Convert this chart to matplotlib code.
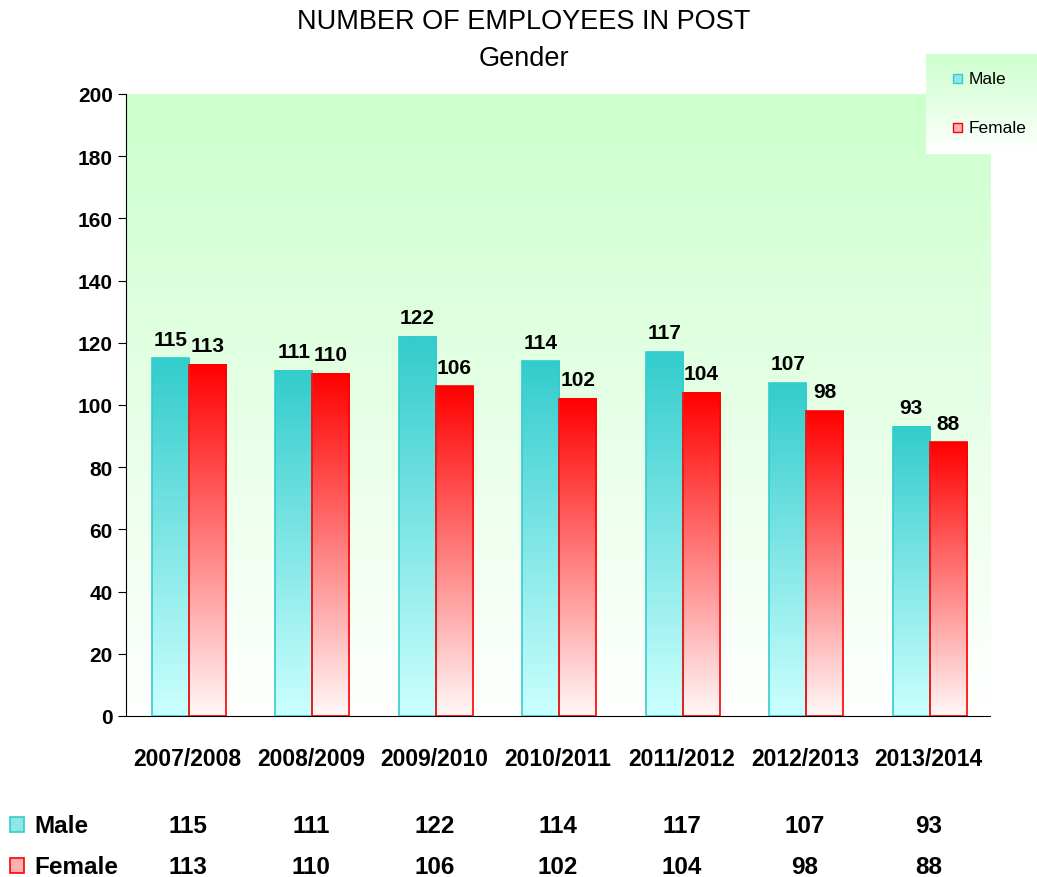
import numpy as np
import matplotlib
matplotlib.use('Agg')
import matplotlib.pyplot as plt
from matplotlib.colors import LinearSegmentedColormap
from matplotlib.patches import Rectangle
from matplotlib.transforms import blended_transform_factory

plt.rcParams['font.family'] = ['Liberation Sans', 'DejaVu Sans']

years = ['2007/2008', '2008/2009', '2009/2010', '2010/2011',
         '2011/2012', '2012/2013', '2013/2014']
male = [115, 111, 122, 114, 117, 107, 93]
female = [113, 110, 106, 102, 104, 98, 88]
series_names = ['Male', 'Female']

male_cmap = LinearSegmentedColormap.from_list('m', ['#ccffff', '#33cccc'])
female_cmap = LinearSegmentedColormap.from_list('f', ['#fff8f8', '#ff0000'])
bg_cmap = LinearSegmentedColormap.from_list('bg', ['#ffffff', '#ccffcc'])
grad = np.linspace(0, 1, 256).reshape(-1, 1)

fig = plt.figure(figsize=(10.37, 8.78), dpi=100)
ax = fig.add_axes([0.1215, 0.1834, 0.8332, 0.7084])

x = np.arange(len(years))
w = 0.30
ax.set_xlim(-0.5, len(years) - 0.5)
ax.set_ylim(0, 200)

# background gradient
ax.imshow(grad, cmap=bg_cmap, origin='lower', aspect='auto',
          extent=(0, 1, 0, 1), transform=ax.transAxes, zorder=0)


def gradient_bar(xc, h, cmap, edge):
    x0, x1 = xc - w / 2, xc + w / 2
    ax.imshow(grad, cmap=cmap, origin='lower', aspect='auto',
              extent=(x0, x1, 0, h), zorder=2)
    ax.add_patch(Rectangle((x0, 0), w, h, fill=False, edgecolor=edge,
                           lw=1.2, zorder=3))


for i in range(len(years)):
    gradient_bar(x[i] - w / 2 + 0.01, male[i], male_cmap, '#33cccc')
    gradient_bar(x[i] + w / 2 + 0.01, female[i], female_cmap, '#ff0000')
    ax.annotate(str(male[i]), (x[i] - w / 2 + 0.01, male[i]), xytext=(0, 7),
                textcoords='offset points', ha='center', va='bottom',
                fontsize=15, fontweight='bold', zorder=5)
    ax.annotate(str(female[i]), (x[i] + w / 2 + 0.01, female[i]),
                xytext=(0, 7), textcoords='offset points', ha='center',
                va='bottom', fontsize=15, fontweight='bold', zorder=5)

ax.set_xlim(-0.5, len(years) - 0.5)
ax.set_ylim(0, 200)
ax.set_yticks(np.arange(0, 201, 20))
ax.tick_params(axis='y', labelsize=15, length=6, direction='out')
for lbl in ax.get_yticklabels():
    lbl.set_fontweight('bold')
ax.set_xticks(x)
ax.set_xticklabels(years, fontsize=16.5, fontweight='bold')
ax.tick_params(axis='x', length=0, pad=22)
ax.spines['top'].set_visible(False)
ax.spines['right'].set_visible(False)

fig.text(0.505, 0.975, 'NUMBER OF EMPLOYEES IN POST', ha='center',
         va='center', fontsize=19.5)
fig.text(0.505, 0.933, 'Gender', ha='center', va='center', fontsize=19.5)

# legend box in the top right
lax = fig.add_axes([0.893, 0.8235, 0.107, 0.114])
lax.imshow(grad, cmap=bg_cmap, origin='lower', aspect='auto',
           extent=(0, 1, 0, 1), zorder=0)
lax.set_xlim(0, 1)
lax.set_ylim(0, 1)
lax.axis('off')
lax.add_patch(Rectangle((0.24, 0.71), 0.08, 0.09, facecolor='#8ee6e6',
                        edgecolor='#33cccc', lw=1))
lax.add_patch(Rectangle((0.24, 0.22), 0.08, 0.09, facecolor='#ffb0b0',
                        edgecolor='#ff0000', lw=1))
lax.text(0.38, 0.755, series_names[0], va='center', fontsize=12.5)
lax.text(0.38, 0.265, series_names[1], va='center', fontsize=12.5)

# data table under the axis
trans = blended_transform_factory(ax.transData, fig.transFigure)
rows = [male, female]
row_y = [0.0585, 0.0115]
row_face = ['#8ee6e6', '#ffb0b0']
row_edge = ['#33cccc', '#ff0000']
for vals, yy, fc, ec, name in zip(rows, row_y, row_face, row_edge, series_names):
    fig.patches.append(Rectangle((0.010, yy - 0.007), 0.013, 0.017,
                                 facecolor=fc, edgecolor=ec, lw=1.2,
                                 transform=fig.transFigure, figure=fig))
    fig.text(0.033, yy, name, va='center', fontsize=17.5, fontweight='bold')
    for i, v in enumerate(vals):
        fig.text(x[i], yy, str(v), transform=trans, ha='center',
                 va='center', fontsize=17.5, fontweight='bold')

fig.savefig('out.png', dpi=100)
